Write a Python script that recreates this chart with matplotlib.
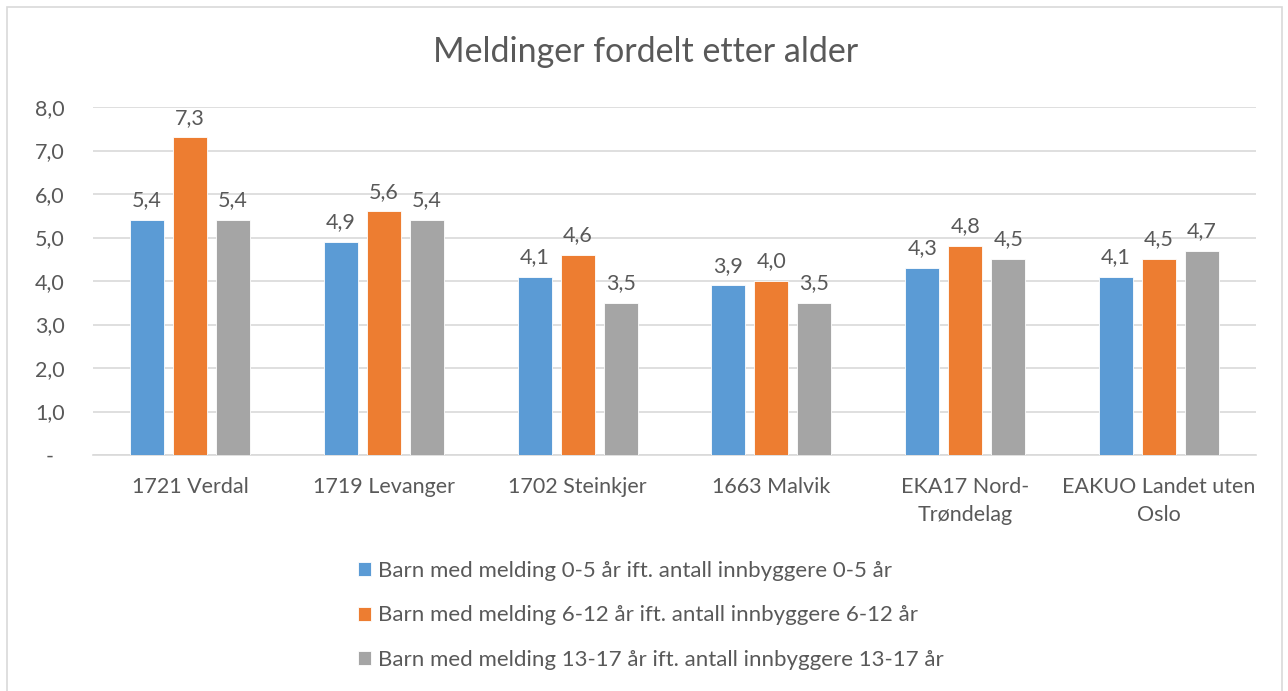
import matplotlib
matplotlib.use("Agg")
import matplotlib.pyplot as plt
import numpy as np
from matplotlib.patches import Rectangle

categories = ["1721 Verdal", "1719 Levanger", "1702 Steinkjer", "1663 Malvik",
              "EKA17 Nord-\nTrøndelag", "EAKUO Landet uten\nOslo"]
series_names = ["Barn med melding 0-5 år ift. antall innbyggere 0-5 år",
                "Barn med melding 6-12 år ift. antall innbyggere 6-12 år",
                "Barn med melding 13-17 år ift. antall innbyggere 13-17 år"]
values_0_5 = [5.4, 4.9, 4.1, 3.9, 4.3, 4.1]
values_6_12 = [7.3, 5.6, 4.6, 4.0, 4.8, 4.5]
values_13_17 = [5.4, 5.4, 3.5, 3.5, 4.5, 4.7]
yticks = [0, 1, 2, 3, 4, 5, 6, 7, 8]
ytick_labels = ["-", "1,0", "2,0", "3,0", "4,0", "5,0", "6,0", "7,0", "8,0"]
colors = ["#5B9BD5", "#ED7D31", "#A5A5A5"]

plt.rcParams['font.family'] = ['Lato', 'DejaVu Sans']
text_color = "#595959"

W, H = 1288, 691
fig = plt.figure(figsize=(W/100, H/100), dpi=100)
# outer border
fig.patches.append(Rectangle((7/W, -0.01), (1282-7)/W, (H-7)/H + 0.01, transform=fig.transFigure,
                             fill=False, edgecolor="#D9D9D9", linewidth=1.2))

left, right, top, bottom = 93, 1256, 107, 455
ax = fig.add_axes([left/W, 1 - bottom/H, (right-left)/W, (bottom-top)/H])

x = np.arange(len(categories))
bw = 0.175
off = 0.222
all_series = [values_0_5, values_6_12, values_13_17]
for i, (vals, c, name) in enumerate(zip(all_series, colors, series_names)):
    ax.bar(x + (i-1)*off, vals, width=bw, color=c, edgecolor="white", linewidth=0.6,
           label=name, zorder=3)
    for xi, v in zip(x + (i-1)*off, vals):
        ax.annotate(f"{v:.1f}".replace(".", ","), (xi, v), xytext=(0, 7), textcoords="offset points",
                    ha="center", va="bottom", fontsize=15.5, color=text_color)

ax.set_xlim(-0.5, len(categories)-0.5)
ax.set_ylim(0, 8)
ax.set_yticks(yticks)
ax.set_yticklabels(ytick_labels)
ax.set_xticks(x)
ax.set_xticklabels(categories, linespacing=1.5)
ax.grid(axis="y", color="#D9D9D9", linewidth=1.2, zorder=0)
ax.set_axisbelow(True)
for s in ["top", "right", "left"]:
    ax.spines[s].set_visible(False)
ax.spines["bottom"].set_color("#D9D9D9")
ax.spines["bottom"].set_linewidth(1.2)
ax.tick_params(axis="both", length=0, labelsize=15.5, colors=text_color)
ax.tick_params(axis="x", pad=16)
ax.tick_params(axis="y", pad=31)
for lbl in ax.get_yticklabels():
    lbl.set_horizontalalignment("center")

fig.text(646/W, 1 - 52/H, "Meldinger fordelt etter alder", ha="center", va="center",
         fontsize=24.5, color=text_color)

leg = fig.legend(loc="upper left", bbox_to_anchor=(358/W, 1 - 561/H), frameon=False,
                 fontsize=16, labelcolor=text_color, handlelength=0.6, handleheight=0.6,
                 handletextpad=0.3, labelspacing=1.1, borderaxespad=0, borderpad=0)

fig.savefig("out.png", dpi=100)
